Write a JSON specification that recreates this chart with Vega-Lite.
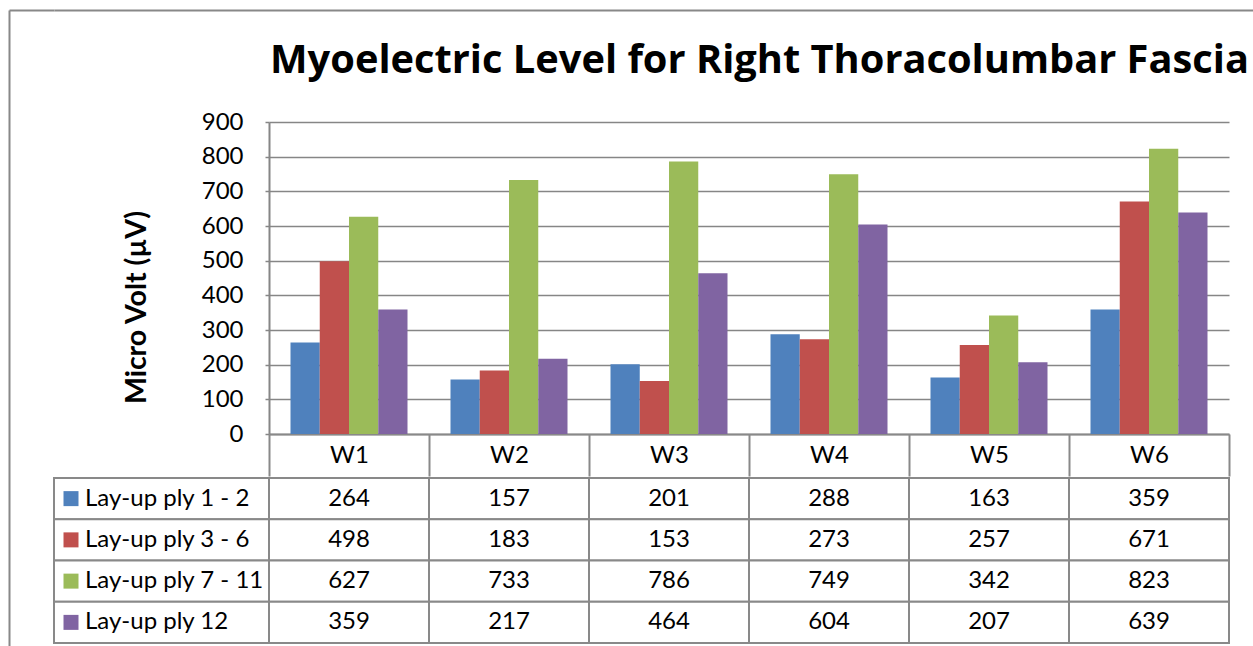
{
  "$schema": "https://vega.github.io/schema/vega-lite/v6.json",
  "padding": {"left": 6, "top": 7, "right": 0, "bottom": 0},
  "autosize": {"type": "pad"},
  "background": "white",
  "config": {"view": {"stroke": null}, "font": "Lato"},
  "datasets": {
    "d": [
      {"W": "W1", "series": "Lay-up ply 1 - 2", "value": 264},
      {"W": "W1", "series": "Lay-up ply 3 - 6", "value": 498},
      {"W": "W1", "series": "Lay-up ply 7 - 11", "value": 627},
      {"W": "W1", "series": "Lay-up ply 12", "value": 359},
      {"W": "W2", "series": "Lay-up ply 1 - 2", "value": 157},
      {"W": "W2", "series": "Lay-up ply 3 - 6", "value": 183},
      {"W": "W2", "series": "Lay-up ply 7 - 11", "value": 733},
      {"W": "W2", "series": "Lay-up ply 12", "value": 217},
      {"W": "W3", "series": "Lay-up ply 1 - 2", "value": 201},
      {"W": "W3", "series": "Lay-up ply 3 - 6", "value": 153},
      {"W": "W3", "series": "Lay-up ply 7 - 11", "value": 786},
      {"W": "W3", "series": "Lay-up ply 12", "value": 464},
      {"W": "W4", "series": "Lay-up ply 1 - 2", "value": 288},
      {"W": "W4", "series": "Lay-up ply 3 - 6", "value": 273},
      {"W": "W4", "series": "Lay-up ply 7 - 11", "value": 749},
      {"W": "W4", "series": "Lay-up ply 12", "value": 604},
      {"W": "W5", "series": "Lay-up ply 1 - 2", "value": 163},
      {"W": "W5", "series": "Lay-up ply 3 - 6", "value": 257},
      {"W": "W5", "series": "Lay-up ply 7 - 11", "value": 342},
      {"W": "W5", "series": "Lay-up ply 12", "value": 207},
      {"W": "W6", "series": "Lay-up ply 1 - 2", "value": 359},
      {"W": "W6", "series": "Lay-up ply 3 - 6", "value": 671},
      {"W": "W6", "series": "Lay-up ply 7 - 11", "value": 823},
      {"W": "W6", "series": "Lay-up ply 12", "value": 639}
    ]
  },
  "spacing": 0,
  "bounds": "flush",
  "hconcat": [
    {
      "width": 45, "height": 700,
      "data": {"values": [{}]},
      "mark": {"type": "point", "opacity": 0},
      "encoding": {
        "x": {"datum": 0, "type": "quantitative", "axis": {"orient": "top", "title": null, "labels": false, "ticks": false, "grid": false, "domainColor": "#888888", "domainWidth": 2}},
        "y": {"datum": 0, "type": "quantitative", "axis": {"orient": "left", "title": null, "labels": false, "ticks": false, "grid": false, "domainColor": "#888888", "domainWidth": 2}}
      }
    },
    {
      "spacing": 0,
      "vconcat": [
        {
          "width": 1199, "height": 100,
          "data": {"values": [{"t": "Myoelectric Level for Right Thoracolumbar Fascia"}]},
          "layer": [
            {
              "mark": {"type": "point", "opacity": 0},
              "encoding": {
                "x": {"datum": 0, "type": "quantitative", "axis": {"orient": "top", "title": null, "labels": false, "ticks": false, "grid": false, "domainColor": "#888888", "domainWidth": 2}}
              }
            },
            {
              "mark": {"type": "text", "font": "Open Sans", "fontSize": 39.8, "fontWeight": "bold", "fill": "black", "baseline": "alphabetic", "dx": 106, "dy": 13},
              "encoding": {"text": {"field": "t"}}
            }
          ]
        },
        {
          "spacing": 0,
          "bounds": "flush",
          "hconcat": [
            {
              "width": 215, "height": 312,
              "data": {"values": [{}]},
              "mark": {"type": "point", "opacity": 0},
              "encoding": {}
            },
            {
              "width": 960, "height": 312,
              "data": {"name": "d"},
              "mark": {"type": "bar"},
              "encoding": {
                "x": {"field": "W", "type": "nominal", "scale": {"domain": ["W1", "W2", "W3", "W4", "W5", "W6"], "paddingInner": 0, "paddingOuter": 0},
                      "axis": {"title": null, "labelAngle": 0, "labelFont": "Lato", "labelFontSize": 24, "labelColor": "black", "labelPadding": -33,
                               "ticks": true, "tickBand": "extent", "tickSize": 42, "tickColor": "#898989", "tickWidth": 2,
                               "domainColor": "#898989", "domainWidth": 2}},
                "xOffset": {"field": "series", "type": "nominal", "scale": {"domain": ["Lay-up ply 1 - 2", "Lay-up ply 3 - 6", "Lay-up ply 7 - 11", "Lay-up ply 12"], "paddingInner": 0, "paddingOuter": 0.735}},
                "y": {"field": "value", "type": "quantitative", "scale": {"domain": [0, 900], "nice": false},
                      "axis": {"values": [0, 100, 200, 300, 400, 500, 600, 700, 800, 900], "title": "Micro Volt (µV)", "titleFont": "Lato", "titleFontSize": 28.5, "titleFontWeight": "bold", "titleColor": "black", "titlePadding": 50, "titleY": 185,
                               "labelFont": "Lato", "labelFontSize": 24, "labelColor": "black", "labelPadding": 22, "tickSize": 4, "tickColor": "#868686", "tickWidth": 1.5,
                               "domainColor": "#868686", "domainWidth": 2, "gridColor": "#868686", "gridWidth": 1.5}},
                "color": {"field": "series", "type": "nominal", "scale": {"domain": ["Lay-up ply 1 - 2", "Lay-up ply 3 - 6", "Lay-up ply 7 - 11", "Lay-up ply 12"], "range": ["#4F81BD", "#C0504D", "#9BBB59", "#8064A2"]}, "legend": null}
              }
            }
          ]
        },
        {
          "spacing": 0,
          "bounds": "flush",
          "hconcat": [
            {
              "width": 215, "height": 165,
              "data": {"name": "d"},
              "transform": [{"aggregate": [{"op": "count", "as": "n"}], "groupby": ["series"]}],
              "layer": [
                {
                  "mark": {"type": "rect", "fill": "white", "stroke": "#898989", "strokeWidth": 2},
                  "encoding": {"y": {"field": "series", "type": "nominal", "scale": {"domain": ["Lay-up ply 1 - 2", "Lay-up ply 3 - 6", "Lay-up ply 7 - 11", "Lay-up ply 12"], "paddingInner": 0, "paddingOuter": 0}, "axis": null}}
                },
                {
                  "mark": {"type": "point", "shape": "square", "filled": true, "size": 225, "opacity": 1, "strokeWidth": 0},
                  "encoding": {
                    "x": {"datum": "sym", "type": "nominal", "scale": {"type": "point", "domain": ["sym", "txt"], "range": [17, 31], "padding": 0}, "axis": null},
                    "y": {"field": "series", "type": "nominal"},
                    "color": {"field": "series", "type": "nominal", "scale": {"domain": ["Lay-up ply 1 - 2", "Lay-up ply 3 - 6", "Lay-up ply 7 - 11", "Lay-up ply 12"], "range": ["#4F81BD", "#C0504D", "#9BBB59", "#8064A2"]}, "legend": null}
                  }
                },
                {
                  "mark": {"type": "text", "align": "left", "font": "Lato", "fontSize": 24, "fill": "black"},
                  "encoding": {
                    "x": {"datum": "txt", "type": "nominal"},
                    "y": {"field": "series", "type": "nominal"},
                    "text": {"field": "series"}
                  }
                }
              ]
            },
            {
              "width": 960, "height": 165,
              "data": {"name": "d"},
              "encoding": {
                "x": {"field": "W", "type": "nominal", "scale": {"domain": ["W1", "W2", "W3", "W4", "W5", "W6"], "paddingInner": 0, "paddingOuter": 0}, "axis": null},
                "y": {"field": "series", "type": "nominal", "scale": {"domain": ["Lay-up ply 1 - 2", "Lay-up ply 3 - 6", "Lay-up ply 7 - 11", "Lay-up ply 12"], "paddingInner": 0, "paddingOuter": 0}, "axis": null}
              },
              "layer": [
                {
                  "mark": {"type": "rect", "fill": "white", "stroke": "#898989", "strokeWidth": 2}
                },
                {
                  "mark": {"type": "text", "font": "Lato", "fontSize": 24, "fill": "black"},
                  "encoding": {"text": {"field": "value"}}
                }
              ]
            }
          ]
        }
      ]
    }
  ]
}
